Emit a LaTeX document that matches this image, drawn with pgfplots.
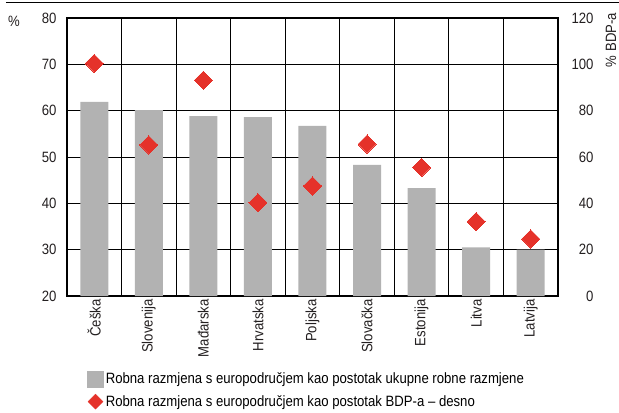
\documentclass[border=0pt]{standalone}
\usepackage{fontspec}
\setmainfont{Liberation Sans}[FakeStretch=0.88]
\usepackage{pgfplots}
\pgfplotsset{compat=1.18}
\definecolor{barc}{RGB}{178,178,178}
\definecolor{redc}{RGB}{229,50,42}
\definecolor{txt}{RGB}{35,31,32}
\begin{document}
\begin{tikzpicture}[font=\fontsize{15}{18}\selectfont]
\path[use as bounding box] (-67bp,-117bp) rectangle (552bp,296bp);
\draw[line width=1bp] (-61bp,293bp) -- (552bp,293bp);
\begin{axis}[
  at={(0,0)}, anchor=south west,
  scale only axis, width=491bp, height=278bp,
  xmin=-0.5, xmax=8.5, ymin=20, ymax=80,
  ytick={20,30,...,80},
  xtick={0,...,8},
  xticklabels={Češka,Slovenija,Mađarska,Hrvatska,Poljska,Slovačka,Estonija,Litva,Latvija},
  minor xtick={0.5,1.5,...,7.5},
  major tick length=0pt, minor tick length=0pt,
  xminorgrids=true, ymajorgrids=true,
  grid style={black, line width=0.8bp},
  minor grid style={black, line width=0.8bp},
  axis line style={black, line width=1.3bp},
  tick label style={text=txt},
  /pgf/number format/assume math mode=true,
  yticklabel style={xshift=-7bp},
  xticklabel style={rotate=90, anchor=east},
]
\addplot[ybar, bar width=28bp, fill=barc, draw=none] coordinates {
(0,61.9) (1,60.1) (2,58.8) (3,58.6) (4,56.7) (5,48.3) (6,43.3) (7,30.5) (8,30.0)};
\end{axis}
\begin{axis}[
  at={(0,0)}, anchor=south west,
  scale only axis, width=491bp, height=278bp,
  xmin=-0.5, xmax=8.5, ymin=0, ymax=120,
  ytick={0,20,...,120},
  hide x axis,
  axis y line*=right,
  axis line style={black, line width=1.3bp},
  major tick length=0pt,
  tick label style={text=txt},
  /pgf/number format/assume math mode=true,
  yticklabel style={anchor=east, xshift=39bp},
  legend style={draw=none, fill=none, at={(0.035,-0.262)}, anchor=north west,
    font=\fontsize{15}{18}\selectfont, row sep=6bp},
  legend cell align=left,
]
\addlegendimage{legend image code/.code={\fill[barc] (0bp,-8bp) rectangle (16bp,8bp);}}
\addlegendentry{Robna razmjena s europodručjem kao postotak ukupne robne razmjene}
\addplot[only marks, mark=square*, mark size=6.4bp,
  mark options={rotate=45, fill=redc, draw=redc, line width=0pt},
  legend image code/.code={\fill[redc] (8bp,-7.5bp) -- (15.5bp,0bp) -- (8bp,7.5bp) -- (0.5bp,0bp) -- cycle;}] coordinates {
(0,100.4) (1,65.2) (2,93.1) (3,40.3) (4,47.5) (5,65.6) (6,55.5) (7,32.1) (8,24.6)};
\addlegendentry{Robna razmjena s europodručjem kao postotak BDP-a – desno}
\end{axis}
\node[text=txt] at (-53bp,275bp) {\%};
\node[text=txt, rotate=90, inner sep=0pt] at (544bp,256bp) {\% BDP-a};
\end{tikzpicture}
\end{document}
